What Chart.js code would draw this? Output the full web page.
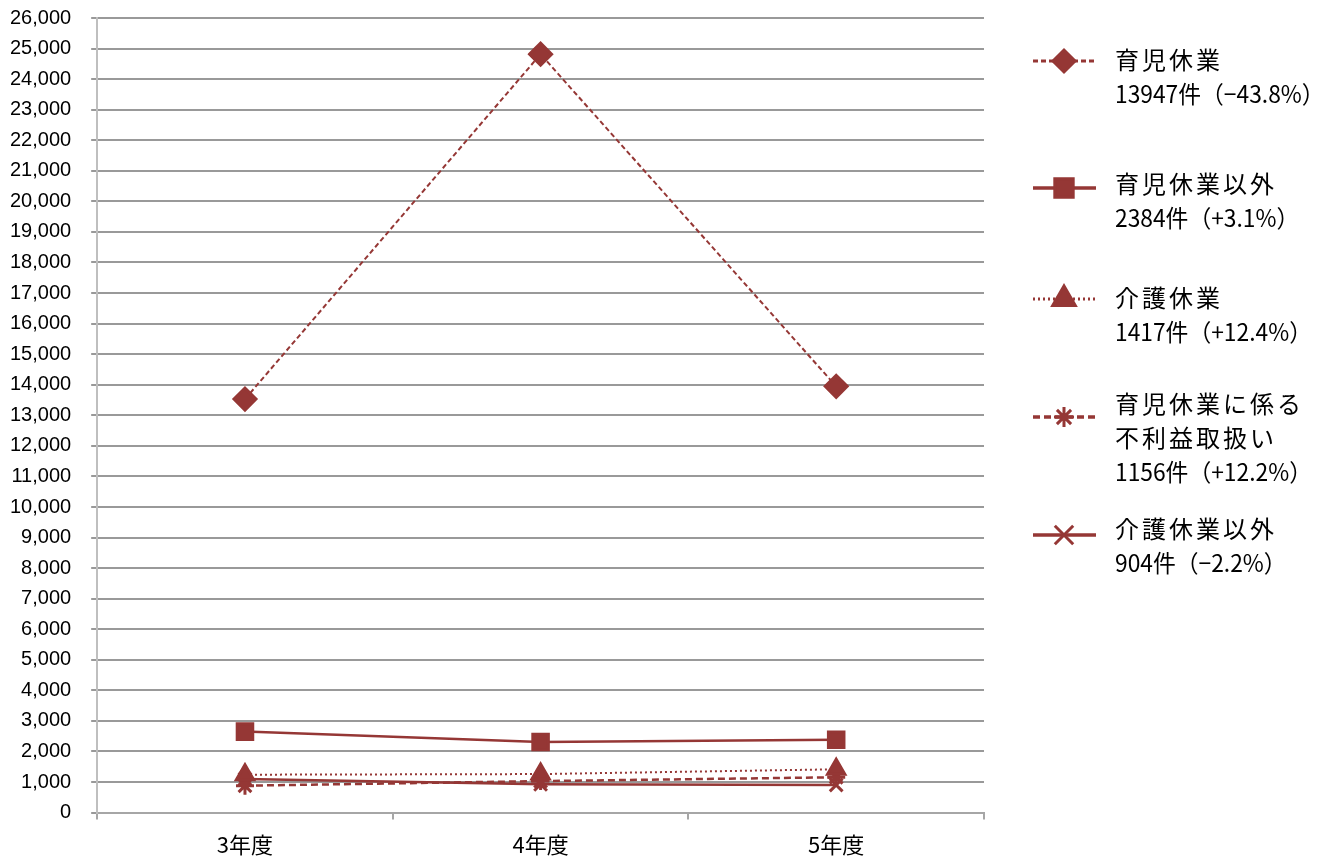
<!DOCTYPE html>
<html>
<head>
<meta charset="utf-8">
<script src="https://cdn.jsdelivr.net/npm/chart.js@4/dist/chart.umd.min.js"></script>
<style>
  html, body { margin: 0; padding: 0; background: #fff; }
  #wrap { width: 1325px; height: 860px; position: relative; }
</style>
</head>
<body>
<div id="wrap"><canvas id="myChart"></canvas></div>
<script>
  // data
  var years = ["3年度", "4年度", "5年度"];
  var ikuji = [13530, 24817, 13947];        // 育児休業
  var ikujiIgai = [2650, 2312, 2384];       // 育児休業以外
  var kaigo = [1240, 1261, 1417];           // 介護休業
  var furieki = [880, 1030, 1156];          // 育児休業に係る不利益取扱い
  var kaigoIgai = [1100, 924, 904];         // 介護休業以外

  var legendNames = [["育児休業"], ["育児休業以外"], ["介護休業"], ["育児休業に係る", "不利益取扱い"], ["介護休業以外"]];
  var legendCounts = ["13947件（−43.8%）", "2384件（+3.1%）", "1417件（+12.4%）", "1156件（+12.2%）", "904件（−2.2%）"];

  var red = "#953735";

  // side legend, drawn on the canvas
  var sideLegend = {
    id: "sideLegend",
    afterDraw: chart => {
      var ctx = chart.ctx;
      var textY = [60, 184, 298, 404, 529];
      var markY = [61, 188, 299, 417, 535];
      var markR = [11, 13, 13, 10, 13];
      var lineH = 34;
      chart.data.datasets.forEach((ds, i) => {
        var my = markY[i];
        ctx.save();
        ctx.strokeStyle = ds.borderColor;
        ctx.lineWidth = ds.borderWidth + 1;
        ctx.setLineDash(ds.borderDash || []);
        ctx.beginPath();
        ctx.moveTo(1033, my);
        ctx.lineTo(1096, my);
        ctx.stroke();
        ctx.setLineDash([]);
        ctx.fillStyle = red;
        ctx.strokeStyle = red;
        ctx.lineWidth = 3;
        Chart.helpers.drawPoint(ctx, { pointStyle: ds.pointStyle, radius: markR[i], borderWidth: 3, rotation: 0 }, 1064, my);
        ctx.restore();

        ctx.save();
        ctx.fillStyle = "#000";
        ctx.textBaseline = "middle";
        var y = textY[i];
        legendNames[i].forEach(t => {
          ctx.font = "24px 'Noto Sans CJK JP'";
          ctx.letterSpacing = "3px";
          ctx.fillText(t, 1115, y);
          y += lineH;
        });
        // count line is narrower in the reference
        ctx.font = "24px 'Noto Sans CJK JP'";
        ctx.letterSpacing = "0px";
        var w = ctx.measureText(legendCounts[i]).width;
        ctx.fillText(legendCounts[i], 1115, y, w * 0.95);
        ctx.restore();
      });
    }
  };

  var mkSet = (label, data, style, radius, dash, width) => ({
    label: label,
    data: data,
    borderColor: red,
    backgroundColor: red,
    borderWidth: width,
    borderDash: dash,
    pointStyle: style,
    pointRadius: radius,
    pointHoverRadius: radius,
    pointBorderWidth: 3,
    pointBackgroundColor: red,
    pointBorderColor: red,
    tension: 0
  });

  new Chart("myChart", {
    type: "line",
    data: {
      labels: years,
      datasets: [
        mkSet("育児休業", ikuji, "rectRot", 11, [5, 3], 2),
        mkSet("育児休業以外", ikujiIgai, "rect", 11, [], 2.5),
        mkSet("介護休業", kaigo, "triangle", 10, [2, 3], 2),
        mkSet("育児休業に係る不利益取扱い", furieki, "star", 9, [7, 4], 2.5),
        mkSet("介護休業以外", kaigoIgai, "crossRot", 9, [], 2.5)
      ]
    },
    options: {
      responsive: true,
      maintainAspectRatio: false,
      animation: false,
      layout: { padding: { left: -10, right: 341, top: 8, bottom: -10 } },
      plugins: {
        legend: { display: false },
        tooltip: { enabled: false }
      },
      scales: {
        x: {
          offset: true,
          grid: { offset: true, drawOnChartArea: false, drawTicks: true, tickLength: 7, color: "#a6a6a6", lineWidth: 2 },
          border: { color: "#a6a6a6", width: 2 },
          ticks: { color: "#000", font: { family: "'Noto Sans CJK JP'", size: 22 }, padding: 12 }
        },
        y: {
          min: 0,
          max: 26000,
          // wide gap between labels and axis, without pushing the top down
          afterFit: s => { s.paddingTop = Math.max(s.paddingTop - 14, 0); },
          ticks: {
            stepSize: 1000,
            color: "#000",
            font: { family: "'Liberation Sans'", size: 20 },
            padding: 20,
            callback: v => v.toLocaleString("en-US")
          },
          grid: { color: "#999", lineWidth: 2, tickLength: 6 },
          border: { color: "#bfbfbf", width: 2 }
        }
      }
    },
    plugins: [sideLegend]
  });
</script>
</body>
</html>
